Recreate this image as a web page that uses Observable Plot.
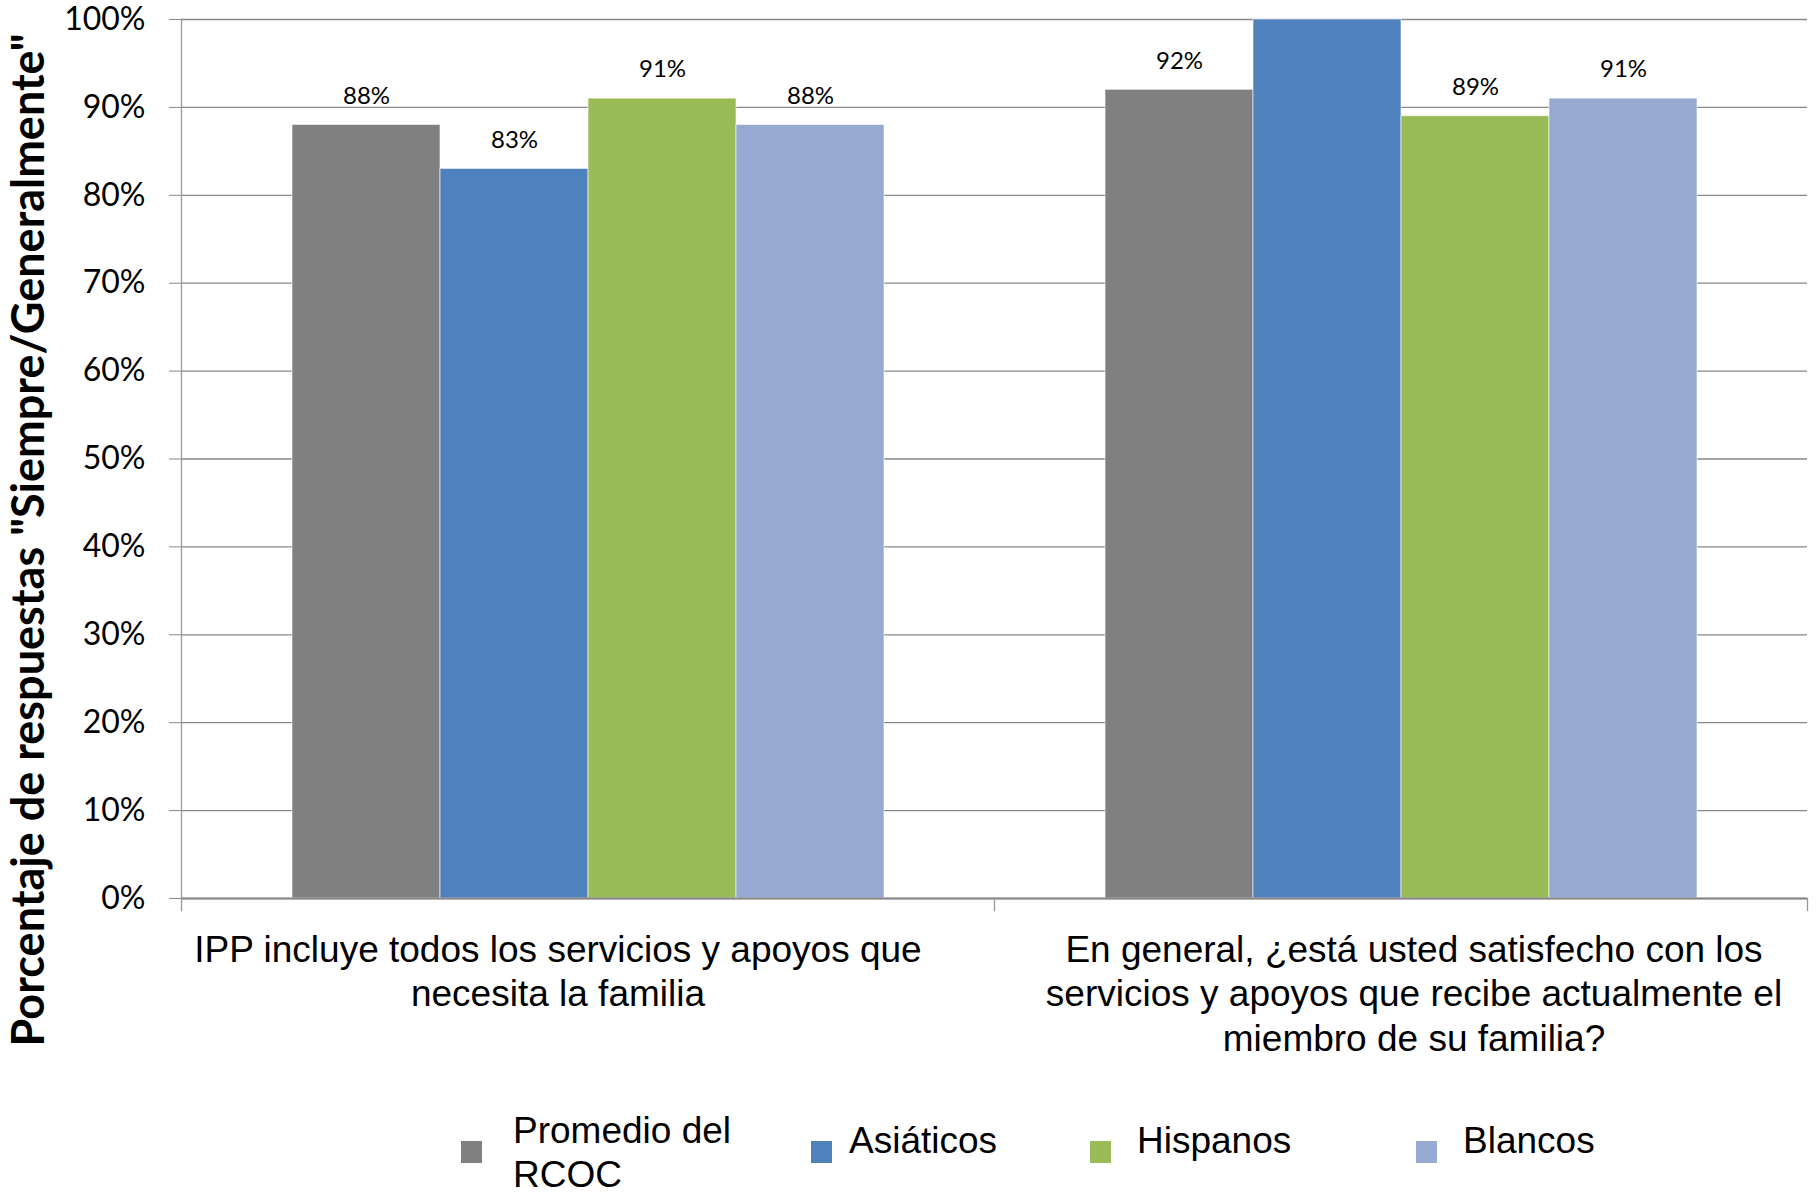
<!DOCTYPE html>
<html>
<head>
<meta charset="utf-8">
<script src="https://cdn.jsdelivr.net/npm/d3@7"></script>
<script src="https://cdn.jsdelivr.net/npm/@observablehq/plot@0.6"></script>
<style>
  html, body { margin: 0; padding: 0; background: #fff; width: 1816px; height: 1192px; overflow: hidden; }
  #chart { position: absolute; left: 0; top: 0; }
  #chart svg { overflow: hidden; }
  #legend { position: absolute; left: 461px; top: 1109px; display: flex; align-items: flex-start; font-family: "Liberation Sans", Arial, sans-serif; font-size: 37px; color: #000; }
  .item { display: flex; align-items: flex-start; }
  .sw { width: 21px; height: 22px; margin-top: 32px; flex: none; }
  .lab { line-height: 44px; white-space: nowrap; }
</style>
</head>
<body>
<div id="chart"></div>
<div id="legend"></div>
<script>
const questions = [
  "IPP incluye todos los servicios y apoyos que\nnecesita la familia",
  "En general, ¿está usted satisfecho con los\nservicios y apoyos que recibe actualmente el\nmiembro de su familia?"
];
const groups = ["Promedio del RCOC", "Asiáticos", "Hispanos", "Blancos"];
const legendLabels = ["Promedio del\nRCOC", "Asiáticos", "Hispanos", "Blancos"];
const colors = ["#808080", "#4f81bd", "#9bbb59", "#95a9d1"];
const valuesQ1 = [88, 83, 91, 88];
const valuesQ2 = [92, 100, 89, 91];
const yTicks = [0, 10, 20, 30, 40, 50, 60, 70, 80, 90, 100];
const yTitle = "Porcentaje de respuestas \"Siempre/Generalmente\"";

const data = [];
groups.forEach((g, i) => data.push({q: questions[0], g, v: valuesQ1[i]}));
groups.forEach((g, i) => data.push({q: questions[1], g, v: valuesQ2[i]}));

const W = 1816, H = 1090;
const gridColor = "#878787";
const catLabelStyle = {
  fx: d => d,
  text: d => d,
  frameAnchor: "bottom",
  textAnchor: "middle",
  lineAnchor: "top",
  dy: 32,
  fontSize: 37,
  lineHeight: 1.2,
  fontFamily: "'Liberation Sans', Arial, sans-serif",
  fill: "#000"
};

const chart = Plot.plot({
  width: W,
  height: H,
  marginLeft: 180,
  marginRight: 9,
  marginTop: 19,
  marginBottom: H - 898,
  style: {background: "white", overflow: "hidden"},
  fx: {domain: questions, padding: 0, label: null, axis: null},
  x: {domain: groups, paddingInner: 0, paddingOuter: 0.745, axis: null},
  y: {domain: [0, 100], label: null},
  color: {domain: groups, range: colors},
  marks: [
    Plot.gridY(yTicks, {stroke: gridColor, strokeOpacity: 1, strokeWidth: 1.3}),
    Plot.frame({anchor: "left", facetAnchor: "left", stroke: "#9a9a9a", strokeWidth: 1.3}),
    Plot.barY(data, {fx: "q", x: "g", y: "v", fill: "g", stroke: "#ffffff", strokeOpacity: 0.6, strokeWidth: 1}),
    Plot.text(data, {fx: "q", x: "g", y: "v", text: d => d.v + "%", dy: -29, fontFamily: "Lato, 'Open Sans', sans-serif", fontSize: 24, fill: "#000"}),
    Plot.ruleY([0], {stroke: gridColor, strokeWidth: 2.2}),
    Plot.frame({anchor: "left", insetTop: 879, insetBottom: -12, stroke: "#9a9a9a", strokeWidth: 1.3}),
    Plot.frame({anchor: "right", facetAnchor: "right", insetTop: 879, insetBottom: -12, stroke: "#9a9a9a", strokeWidth: 1.3}),
    Plot.axisY({
      ticks: yTicks,
      tickFormat: d => d + "%",
      tickSize: 12,
      tickPadding: 24,
      stroke: gridColor,
      fontSize: 32,
      fontFamily: "Lato, 'Open Sans', sans-serif",
      fill: "#000",
      label: null
    }),
    Plot.text([questions[0]], {...catLabelStyle, dx: -30}),
    Plot.text([questions[1]], {...catLabelStyle, dx: 13}),
    Plot.text([yTitle], {
      frameAnchor: "left",
      facetAnchor: "left",
      textAnchor: "middle",
      rotate: -90,
      dx: -152,
      dy: 81,
      fontSize: 45,
      fontWeight: "bold",
      fontFamily: "Lato, 'Open Sans', sans-serif",
      fill: "#000"
    })
  ]
});
document.getElementById("chart").appendChild(chart);

const legend = document.getElementById("legend");
const colWidths = [350, 279, 326, 250];
const labelGaps = [31, 17, 26, 26];
legendLabels.forEach((lab, i) => {
  const item = document.createElement("div");
  item.className = "item";
  item.style.width = colWidths[i] + "px";
  const sw = document.createElement("div");
  sw.className = "sw";
  sw.style.background = colors[i];
  sw.style.marginRight = labelGaps[i] + "px";
  const t = document.createElement("div");
  t.className = "lab";
  t.style.marginTop = lab.includes("\n") ? "0px" : "10px";
  t.innerHTML = lab.replace("\n", "<br>");
  item.appendChild(sw);
  item.appendChild(t);
  legend.appendChild(item);
});
</script>
</body>
</html>
